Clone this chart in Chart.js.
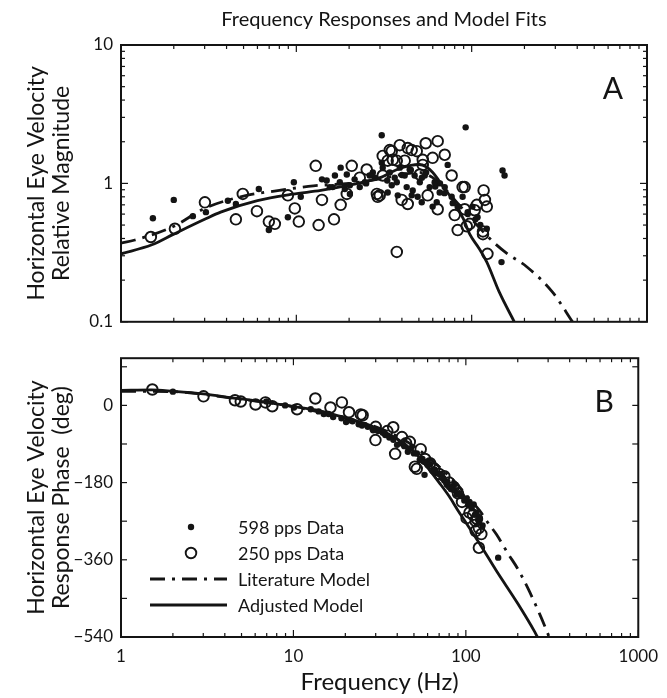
<!DOCTYPE html>
<html>
<head>
<meta charset="utf-8">
<script src="https://cdn.jsdelivr.net/npm/chart.js@4.4.1/dist/chart.umd.min.js"></script>
<style>
  html, body { margin: 0; padding: 0; background: #fff; }
  #wrap { position: relative; width: 667px; height: 698px; }
  #magCanvas { position: absolute; left: 0; top: 0; }
  #phaseCanvas { position: absolute; left: 0; top: 340px; }
</style>
</head>
<body>
<div id="wrap">
  <canvas id="magCanvas" width="667" height="340"></canvas>
  <canvas id="phaseCanvas" width="667" height="358"></canvas>
</div>
<script>
// ---- Panel A: magnitude ----
const magFreq598 = [1.52, 2.0, 2.57, 3.05, 4.07, 4.52, 6.11, 6.97, 8.95, 9.68, 10.6, 14.0, 14.9, 16.1, 17.9, 19.4, 20.2, 23.0, 25, 27.3, 28, 30.7, 30.7, 33, 35.0, 37.4, 40, 42.6, 45, 46.1, 49.2, 52, 55, 59.9, 62, 66, 70, 73.0, 78, 84, 88.8, 92.4, 95, 101, 105, 112, 122, 148, 150, 154,
                    31.1, 34.1, 36.4, 38.9, 41.5, 44.3, 47.3, 50.6, 54.0, 57.6, 61.5, 65.7, 70.2, 33.2, 37.9, 45.5, 51.9, 63.2, 76.9, 83.2, 94.9, 108, 20.2, 21.5, 24.6, 26.2, 17.7, 16.6, 15.5, 18.9];
const magVal598  = [0.56, 0.76, 0.58, 0.62, 0.75, 0.71, 0.91, 0.46, 0.57, 1.02, 0.80, 1.07, 1.05, 0.94, 1.30, 1.16, 0.84, 0.94, 1.0, 1.20, 1.1, 2.23, 1.41, 1.05, 0.97, 1.02, 1.15, 0.94, 1.25, 0.89, 0.80, 1.1, 1.2, 0.68, 0.95, 1.0, 0.85, 1.36, 0.72, 0.68, 0.80, 2.54, 0.6, 0.68, 0.55, 0.5, 0.47, 0.27, 1.24, 1.14,
                    1.30, 1.20, 1.10, 1.30, 1.14, 1.26, 1.14, 1.02, 1.14, 0.94, 1.02, 0.86, 0.94, 0.86, 0.82, 0.82, 0.73, 0.73, 0.80, 0.68, 0.62, 0.57, 0.97, 1.07, 1.02, 1.14, 1.02, 1.14, 0.94, 0.91];
const magFreq250 = [1.48, 2.03, 3.01, 4.52, 4.95, 5.96, 6.97, 7.54, 8.95, 9.80, 10.33, 12.9, 13.4, 14.0, 16.4, 17.9, 19.4, 20.7, 23.0, 25.2, 28.8, 29.1, 33.2, 35.0, 37.4, 37.4, 38.9, 39.9, 41.5, 43.2, 43.2, 48.6, 50.6, 52.6, 54.7, 56.1, 59.9, 64.0, 64.0, 70.2, 76.9, 80.0, 83.2, 88.8, 91.2, 93.7, 104, 107, 116, 117, 119, 122, 123,
                    34.1, 45.5, 52.6, 35.5, 31.1, 31.1, 29.9, 91.2, 97.5, 116];
const magVal250  = [0.41, 0.47, 0.73, 0.55, 0.84, 0.63, 0.53, 0.51, 0.82, 0.66, 0.53, 1.34, 0.50, 0.76, 0.55, 0.70, 0.84, 1.34, 1.10, 1.26, 0.84, 0.80, 1.46, 1.71, 1.46, 0.32, 1.89, 0.76, 1.46, 1.80, 0.71, 1.71, 1.16, 1.36, 1.95, 0.82, 1.53, 2.02, 0.65, 1.61, 1.14, 0.59, 0.46, 0.94, 0.65, 0.49, 0.64, 0.70, 0.43, 0.89, 0.76, 0.68, 0.31,
                    1.74, 1.74, 1.48, 1.48, 1.58, 1.14, 0.82, 0.94, 0.51, 0.45];

const magLitFreq = [1, 1.2, 2, 3, 5, 8, 12.5, 20, 30, 40, 50, 60, 70, 80, 100, 135, 160, 206, 290, 376];
const magLitVal  = [0.37, 0.39, 0.49, 0.66, 0.81, 0.89, 0.96, 1.0, 1.08, 1.16, 1.2, 1.1, 0.92, 0.76, 0.55, 0.37, 0.31, 0.25, 0.163, 0.1];
const magAdjFreq = [1, 1.5, 2, 3, 3.7, 6, 9.5, 13.8, 20, 30, 37, 45, 50, 55, 60, 65, 70, 78, 90, 97.5, 110, 122, 144, 175];
const magAdjVal  = [0.31, 0.36, 0.43, 0.55, 0.62, 0.75, 0.835, 0.89, 0.97, 1.1, 1.25, 1.35, 1.37, 1.32, 1.2, 1.05, 0.92, 0.76, 0.55, 0.43, 0.34, 0.27, 0.163, 0.1];

// ---- Panel B: phase in degrees ----
const phaseFreq598 = [2.0, 6.97, 8.95, 10.07, 12.6, 15, 17, 20.2, 20.7, 23.9, 25, 28.8, 31, 34.1, 39.9, 44, 46.1, 50, 54.0, 57.6, 59.9, 65, 68, 72.1, 75, 77.9, 82, 85.5, 88.8, 95, 101, 105, 111, 115, 120, 154,
                      14, 16, 19, 22, 27, 29, 33, 36, 38, 42, 48, 52, 56, 62, 66, 70, 74, 78, 80, 86, 92, 98, 103, 108, 113, 118, 125];
const phaseVal598  = [32, 9, 0, -5, -9, -20, -27, -39, -35, -44, -47, -55, -60, -69, -92, -95, -108, -112, -127, -162, -132, -150, -158, -162, -175, -185, -195, -185, -208, -212, -217, -225, -231, -250, -262, -355,
                      -14, -20, -30, -37, -50, -58, -64, -75, -80, -88, -100, -112, -125, -138, -150, -160, -170, -178, -190, -198, -205, -222, -232, -240, -255, -268, -280];
const phaseFreq250 = [1.52, 3.01, 4.58, 4.95, 6.03, 6.88, 7.54, 10.5, 13.4, 16.4, 19.1, 21.0, 24.6, 25.2, 29.9, 37.9, 38.9, 42.6, 47.3, 50.6, 51.9, 54.7, 65.7, 75, 85, 95, 101, 105, 114, 114, 116, 119, 119, 123,
                      30, 35, 45, 58, 62, 70, 80, 90, 110];
const phaseVal250  = [37, 21, 12, 9, 2, 7, -2, -9, 16, -5, 7, -16, -21, -23, -81, -51, -113, -74, -85, -143, -148, -102, -148, -165, -190, -225, -263, -250, -270, -293, -265, -286, -332, -300,
                      -50, -60, -88, -125, -135, -160, -180, -205, -255];

const phaseLitFreq = [1, 2, 4, 10, 20, 30, 40, 50, 60, 70, 80, 90, 100, 120, 135, 150, 176, 200, 230, 267, 298, 304];
const phaseLitVal  = [33, 32, 19, -3, -30, -50, -72, -95, -120, -143, -165, -186, -208, -245, -275, -300, -346, -381, -428, -485, -531, -540];
const phaseAdjFreq = [1, 1.5, 2, 3, 4, 7, 10, 14, 18, 25, 30, 40, 50, 60, 70, 80, 90, 100, 120, 150, 200, 250, 260];
const phaseAdjVal  = [35, 36, 33, 27, 20, 7, -3, -12, -24, -40, -52, -78, -108, -145, -180, -212, -245, -273, -322, -385, -462, -527, -540];

// axis labels
const freqTicks = [1, 10, 100, 1000];
const magTicks = [0.1, 1, 10];
const phaseTicks = [-540, -360, -180, 0];
const phaseMinorTicks = [-540, -450, -360, -270, -180, -90, 0, 90];

const INK = '#141414';
const FONT = 'Lato, "Open Sans", sans-serif';
const LIT_DASH = [15, 7, 3, 7];

function pairs(xs, ys) {
    return xs.map((x, i) => ({ x: x, y: ys[i] }));
}

// decade + 2..9 positions for inward log ticks
function logTickSet(lo, hi) {
    const major = [], minor = [];
    for (let d = lo; d <= hi; d *= 10) {
        major.push(d);
        if (d < hi) for (let k = 2; k <= 9; k++) minor.push(d * k);
    }
    return { major, minor };
}

// frame box with MATLAB-like inward ticks on all four sides
const frameTicks = {
    id: 'frameTicks',
    afterDatasetsDraw(chart, args, opts) {
        const { ctx, chartArea: a, scales } = chart;
        ctx.save();
        ctx.strokeStyle = INK;
        ctx.lineWidth = 1.2;
        const seg = (x1, y1, x2, y2) => { ctx.beginPath(); ctx.moveTo(x1, y1); ctx.lineTo(x2, y2); ctx.stroke(); };
        const xt = logTickSet(1, 1000);
        xt.major.forEach(v => { const p = scales.x.getPixelForValue(v); seg(p, a.top, p, a.top + 7); seg(p, a.bottom, p, a.bottom - 7); });
        xt.minor.forEach(v => { const p = scales.x.getPixelForValue(v); seg(p, a.top, p, a.top + 4); seg(p, a.bottom, p, a.bottom - 4); });
        if (opts.logY) {
            const yt = logTickSet(0.1, 10);
            yt.major.forEach(v => { const p = scales.y.getPixelForValue(v); seg(a.left, p, a.left + 7, p); seg(a.right, p, a.right - 7, p); });
            yt.minor.forEach(v => { const p = scales.y.getPixelForValue(v); seg(a.left, p, a.left + 4, p); seg(a.right, p, a.right - 4, p); });
        } else {
            phaseMinorTicks.forEach(v => { const p = scales.y.getPixelForValue(v); seg(a.left, p, a.left + 6, p); seg(a.right, p, a.right - 6, p); });
        }
        ctx.lineWidth = 2;
        ctx.strokeRect(a.left, a.top, a.right - a.left, a.bottom - a.top);
        ctx.font = '30px ' + FONT;
        ctx.fillStyle = INK;
        ctx.textAlign = 'center';
        ctx.textBaseline = 'middle';
        ctx.fillText(opts.letter, a.right - 34, a.top + 44);
        ctx.restore();
    }
};

// legend drawn inside the phase panel, lower left
const insideLegend = {
    id: 'insideLegend',
    afterDraw(chart) {
        const { ctx, chartArea: a } = chart;
        const rows = [2, 3, 0, 1]; // dataset indices in legend order
        ctx.save();
        ctx.font = '18px ' + FONT;
        ctx.textBaseline = 'middle';
        ctx.textAlign = 'left';
        rows.forEach((di, i) => {
            const ds = chart.data.datasets[di];
            const y = a.bottom - 110 + i * 26;
            const x0 = a.left + 29, x1 = a.left + 106, xc = a.left + 70;
            ctx.strokeStyle = INK;
            ctx.fillStyle = INK;
            if (ds.showLine) {
                ctx.lineWidth = ds.borderWidth;
                ctx.setLineDash(ds.borderDash || []);
                ctx.beginPath(); ctx.moveTo(x0, y); ctx.lineTo(x1, y); ctx.stroke();
                ctx.setLineDash([]);
            } else if (ds.borderWidth > 0) {
                ctx.lineWidth = ds.borderWidth;
                ctx.beginPath(); ctx.arc(xc, y, ds.pointRadius, 0, Math.PI * 2); ctx.stroke();
            } else {
                ctx.beginPath(); ctx.arc(xc, y, ds.pointRadius, 0, Math.PI * 2); ctx.fill();
            }
            ctx.fillText(ds.label, a.left + 117, y + 1);
        });
        ctx.restore();
    }
};

function buildDatasets(lit, adj, d598, d250) {
    return [
        { label: 'Literature Model', data: lit, showLine: true, borderColor: INK, borderWidth: 2.8, borderDash: LIT_DASH,
          pointRadius: 0, cubicInterpolationMode: 'monotone', order: 1 },
        { label: 'Adjusted Model', data: adj, showLine: true, borderColor: INK, borderWidth: 2.8,
          pointRadius: 0, cubicInterpolationMode: 'monotone', order: 0 },
        { label: '598 pps Data', data: d598, pointRadius: 3.2, backgroundColor: INK, borderWidth: 0, order: 3 },
        { label: '250 pps Data', data: d250, pointRadius: 5.3, backgroundColor: 'rgba(0,0,0,0)',
          borderColor: INK, borderWidth: 1.9, order: 2 }
    ];
}

const logX = (extra) => Object.assign({
    type: 'logarithmic', min: 1, max: 1000,
    grid: { display: false, drawTicks: false }, border: { display: false }
}, extra);

const yTitleFont = { family: FONT, size: 23, lineHeight: 1.1 };

const magChart = new Chart(document.getElementById('magCanvas'), {
    type: 'scatter',
    data: { datasets: buildDatasets(pairs(magLitFreq, magLitVal), pairs(magAdjFreq, magAdjVal),
                                    pairs(magFreq598, magVal598), pairs(magFreq250, magVal250)) },
    options: {
        responsive: false,
        animation: false,
        layout: { padding: { top: 0, right: 20, bottom: 14, left: 0 } },
        scales: {
            x: logX({ display: false }),
            y: {
                type: 'logarithmic', min: 0.1, max: 10,
                afterFit(s) { s.width = 121; },
                afterBuildTicks(s) { s.ticks = magTicks.map(v => ({ value: v })); },
                ticks: { callback: v => String(v), color: INK, padding: 8, font: { family: FONT, size: 17 } },
                grid: { display: false, drawTicks: false }, border: { display: false },
                title: { display: true, text: ['Horizontal Eye Velocity', 'Relative Magnitude'], color: INK,
                         font: yTitleFont, padding: { top: 24, bottom: 0 } }
            }
        },
        plugins: {
            legend: { display: false },
            tooltip: { enabled: false },
            title: { display: true, fullSize: false, text: 'Frequency Responses and Model Fits', color: INK,
                     font: { family: FONT, size: 20, weight: 'normal' }, padding: { top: 8, bottom: 13 } },
            frameTicks: { letter: 'A', logY: true }
        }
    },
    plugins: [frameTicks]
});

const phaseChart = new Chart(document.getElementById('phaseCanvas'), {
    type: 'scatter',
    data: { datasets: buildDatasets(pairs(phaseLitFreq, phaseLitVal), pairs(phaseAdjFreq, phaseAdjVal),
                                    pairs(phaseFreq598, phaseVal598), pairs(phaseFreq250, phaseVal250)) },
    options: {
        responsive: false,
        animation: false,
        layout: { padding: { top: 15, right: 20, bottom: 0, left: 0 } },
        scales: {
            x: logX({
                afterFit(s) { s.height = 61; },
                afterBuildTicks(s) { s.ticks = freqTicks.map(v => ({ value: v })); },
                ticks: { callback: v => String(v), color: INK, padding: 9, maxRotation: 0, autoSkip: false,
                         font: { family: FONT, size: 17 } },
                title: { display: true, text: 'Frequency (Hz)', color: INK,
                         font: { family: FONT, size: 24 }, padding: { top: 2, bottom: 1 } }
            }),
            y: {
                type: 'linear', min: -540, max: 110,
                afterFit(s) { s.width = 121; },
                afterBuildTicks(s) { s.ticks = phaseTicks.map(v => ({ value: v })); },
                ticks: { callback: v => (v < 0 ? '\u2212' + Math.abs(v) : String(v)), color: INK, padding: 8,
                         font: { family: FONT, size: 17 } },
                grid: { display: false, drawTicks: false }, border: { display: false },
                title: { display: true, text: ['Horizontal Eye Velocity', 'Response Phase  (deg)'], color: INK,
                         font: yTitleFont, padding: { top: 24, bottom: 0 } }
            }
        },
        plugins: {
            legend: { display: false },
            tooltip: { enabled: false },
            frameTicks: { letter: 'B', logY: false }
        }
    },
    plugins: [frameTicks, insideLegend]
});
</script>
</body>
</html>
